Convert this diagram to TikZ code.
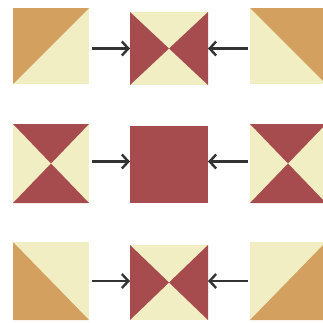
\documentclass[tikz,border=0pt]{standalone}
\usetikzlibrary{arrows.meta}
\definecolor{tan}{HTML}{D4A05F}
\definecolor{cream}{HTML}{F2EEC4}
\definecolor{brick}{HTML}{A64B4E}
\definecolor{arrowc}{HTML}{333333}
\begin{document}
\begin{tikzpicture}[x=1pt,y=-1pt,
  sq/.style={inner sep=0pt, outer sep=0pt, draw=none, fill=cream},
  arr/.style={draw=arrowc, line width=2.6pt, -{Straight Barb[length=6.5pt,width=14pt,line width=2.4pt]}}]
\useasboundingbox (0,0) rectangle (323,322);
% row 1
\node[sq, minimum width=76pt, minimum height=76pt] (L1) at (51,46) {};
\node[sq, minimum width=78pt, minimum height=73pt] (M1) at (169,48.5) {};
\node[sq, minimum width=76pt, minimum height=76pt] (R1) at (288,46) {};
% row 2
\node[sq, minimum width=76pt, minimum height=79pt] (L2) at (51,163.5) {};
\node[sq, fill=brick, minimum width=78pt, minimum height=77pt] (M2) at (169,164.5) {};
\node[sq, minimum width=76pt, minimum height=79pt] (R2) at (288,163.5) {};
% row 3
\node[sq, minimum width=76pt, minimum height=78pt] (L3) at (51,281) {};
\node[sq, minimum width=78pt, minimum height=75pt] (M3) at (169,282.5) {};
\node[sq, minimum width=76pt, minimum height=78pt] (R3) at (288,281) {};
% half-square triangles
\fill[tan] (L1.north west) -- (L1.north east) -- (L1.south west) -- cycle;
\fill[tan] (R1.north west) -- (R1.north east) -- (R1.south east) -- cycle;
\fill[tan] (L3.north west) -- (L3.south east) -- (L3.south west) -- cycle;
\fill[tan] (R3.north east) -- (R3.south east) -- (R3.south west) -- cycle;
% bowties
\foreach \n in {M1,M3}{
  \fill[brick] (\n.north west) -- (\n.center) -- (\n.south west) -- cycle;
  \fill[brick] (\n.north east) -- (\n.center) -- (\n.south east) -- cycle;
}
% hourglasses
\foreach \n in {L2,R2}{
  \fill[brick] (\n.north west) -- (\n.north east) -- (\n.center) -- cycle;
  \fill[brick] (\n.south west) -- (\n.south east) -- (\n.center) -- cycle;
}
% arrows
\draw[arr, shorten <=3pt] (L1.east |- M1.center) -- (M1.west);
\draw[arr, shorten <=2pt] (R1.west |- M1.center) -- (M1.east);
\draw[arr, shorten <=3pt] ([yshift=2pt]L2.east) -- ([yshift=2pt]L2.east -| M2.west);
\draw[arr, shorten <=2pt] ([yshift=2pt]R2.west) -- ([yshift=2pt]R2.west -| M2.east);
\draw[arr, shorten <=3pt] (L3.east) -- (L3.east -| M3.west);
\draw[arr, shorten <=2pt] (R3.west) -- (R3.west -| M3.east);
\end{tikzpicture}
\end{document}
